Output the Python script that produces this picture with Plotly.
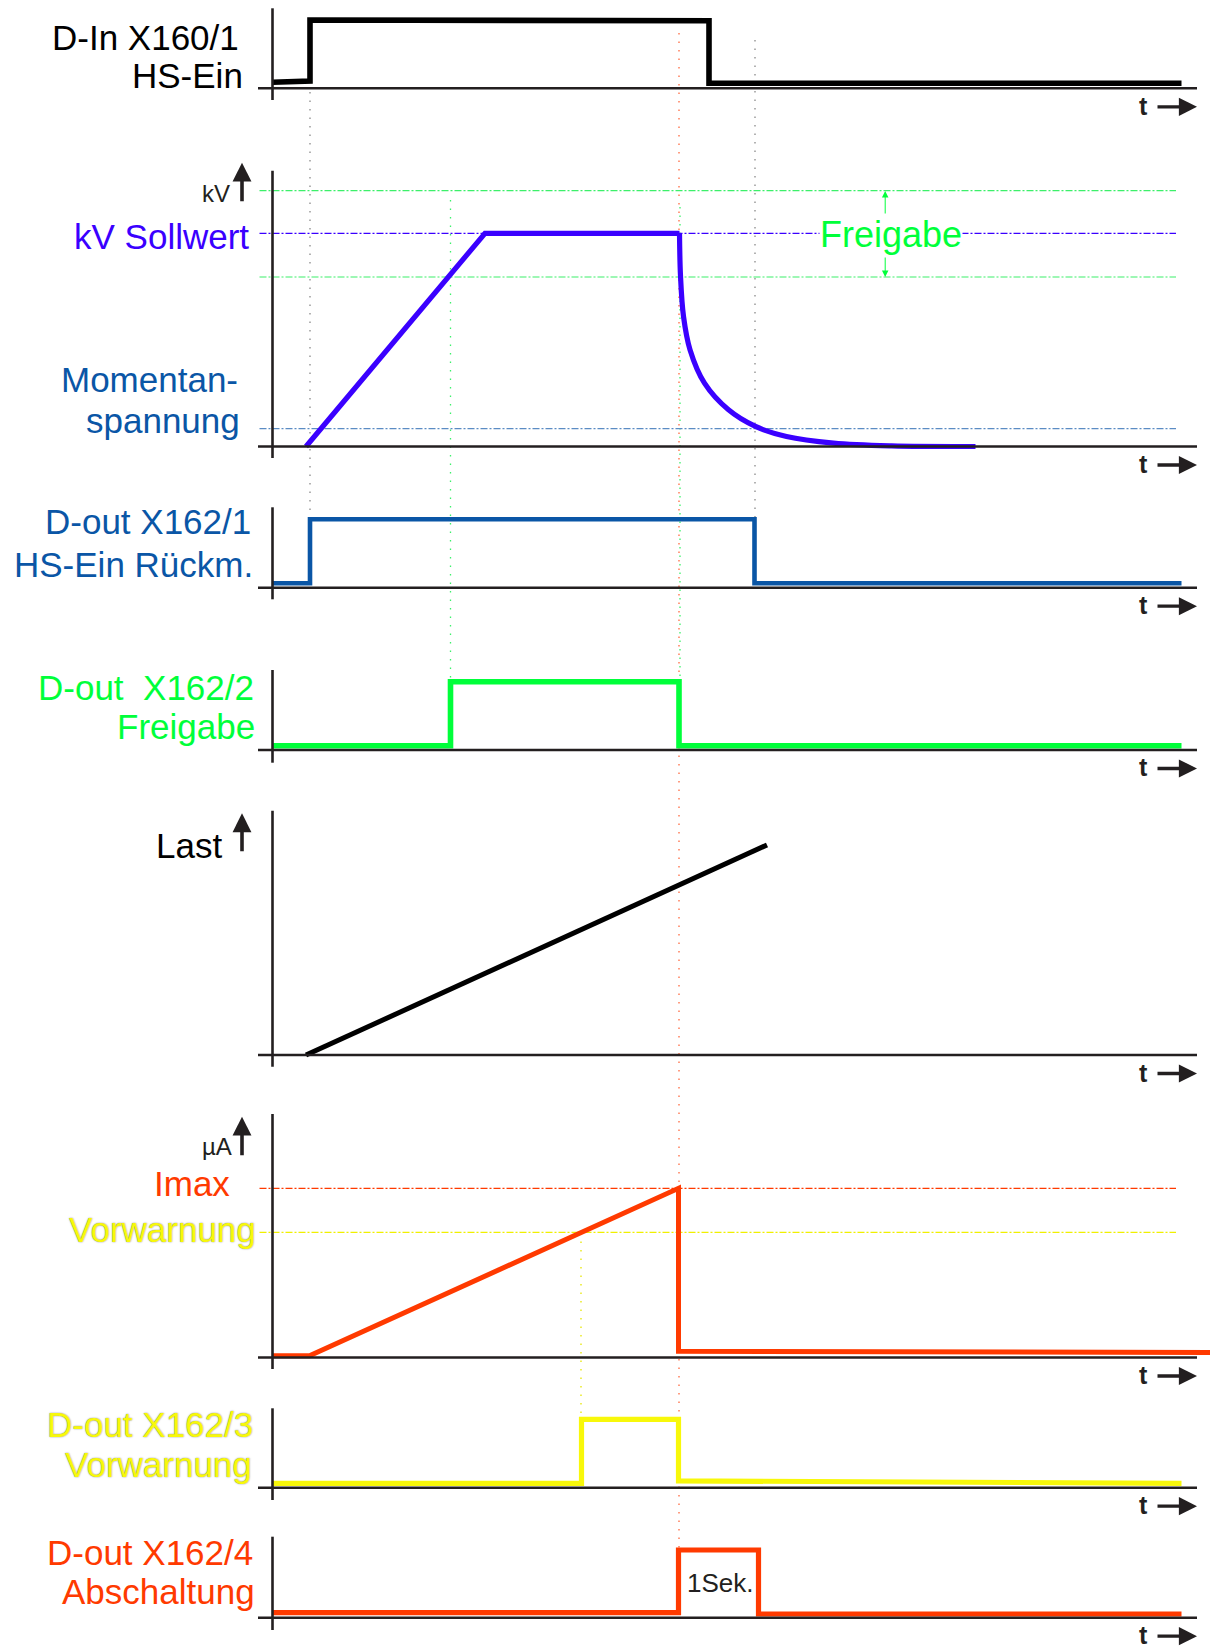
import plotly.graph_objects as go

W, H = 1210, 1646
FONT = "Liberation Sans, Arial, Helvetica, sans-serif"

# ---------------- data (time in arbitrary units, levels relative per panel) -------------
# D-In X160/1 HS-Ein
din_t = [0.0, 3.75, 3.75, 43.65, 43.65, 90.9]
din_v = [0.088, 0.107, 1.0, 0.99, 0.073, 0.073]

# kV curve (ramp, plateau, decay)
kv_t = [3.35, 21.25, 40.7]
kv_v = [0.0, 1.0, 1.0]
kv_decay_t = [40.7, 40.8, 41.1, 41.75, 43.2, 45.6, 48.3, 51.4, 56.1, 61.9, 70.3]
kv_decay_v = [1.0, 0.80, 0.61, 0.454, 0.297, 0.172, 0.094, 0.047, 0.016, 0.003, 0.0]
kv_upper_limit = 1.2
kv_setpoint = 1.0
kv_lower_limit = 0.795
kv_momentary = 0.084

# D-out X162/1 HS-Ein Rückm.
rueck_t = [0.0, 3.75, 3.75, 48.2, 48.2, 90.9]
rueck_v = [0.064, 0.064, 1.0, 1.0, 0.064, 0.064]

# D-out X162/2 Freigabe
freig_t = [0.0, 17.8, 17.8, 40.65, 40.65, 90.9]
freig_v = [0.063, 0.063, 1.0, 1.0, 0.063, 0.063]

# Last
last_t = [3.35, 49.45]
last_v = [0.0, 1.0]

# current µA
ua_t = [0.0, 3.7, 40.6, 40.6, 93.75]
ua_v = [0.01, 0.01, 1.0, 0.037, 0.03]
ua_imax = 1.0
ua_warn = 0.74

# D-out X162/3 Vorwarnung
vorw_t = [0.0, 30.9, 30.9, 40.6, 40.6, 90.9]
vorw_v = [0.064, 0.064, 1.0, 1.0, 0.10, 0.064]

# D-out X162/4 Abschaltung
absch_t = [0.0, 40.6, 40.6, 48.6, 48.6, 90.9]
absch_v = [0.074, 0.074, 1.0, 1.0, 0.055, 0.055]

# event markers (times)
ev_hs_on = 3.75
ev_freig = 17.8
ev_warn = 30.85
ev_trip = 40.65
ev_rueck_off = 48.25

# ---------------- layout helpers ----------------
AX0 = 272.5      # pixel of time origin
PXT = 10.0       # pixels per time unit


def tx(px):
    return (px - AX0) / PXT


def xp(px):
    return px / W


def yp(py):
    return 1 - py / H


AXIS = "#231f20"
BLACK = "#000000"
VIOLET = "#3a00ff"
STEEL = "#0a56a6"
STEEL_LINE = "#5b8cc4"
GREEN = "#00ff3a"
GREEN_LINE = "#3cf06a"
RED = "#ff3a00"
YELLOW = "#f8f80a"
GREY_DOT = "#8a8a8a"

panels = [
    dict(base=88.3, unit=68.3, top=8.3, bot=100),
    dict(base=446.5, unit=213.2, top=170.7, bot=458),
    dict(base=587.7, unit=68.4, top=507.3, bot=599.3),
    dict(base=750.0, unit=68.3, top=670, bot=762.7),
    dict(base=1055.0, unit=210.0, top=810.7, bot=1066.7),
    dict(base=1357.5, unit=169.2, top=1114, bot=1369),
    dict(base=1487.7, unit=68.4, top=1408.3, bot=1500),
    dict(base=1617.7, unit=67.7, top=1536.7, bot=1630),
]

fig = go.Figure()
lay = {}
yrefs = []
for i, p in enumerate(panels):
    key = "yaxis" if i == 0 else f"yaxis{i+1}"
    ref = "y" if i == 0 else f"y{i+1}"
    yrefs.append(ref)
    ax = dict(domain=[0, 1], range=[(p["base"] - H) / p["unit"], p["base"] / p["unit"]],
              visible=False, fixedrange=True)
    if i > 0:
        ax["overlaying"] = "y"
    lay[key] = ax

shapes = []
annotations = []

# vertical dotted event lines
def vdot(t, y0, y1, color):
    shapes.append(dict(type="line", xref="x", yref="paper", x0=t, x1=t, y0=yp(y0), y1=yp(y1),
                       line=dict(color=color, width=1.3, dash="1.5px,7px"), layer="below"))

vdot(ev_hs_on, 92, 516, GREY_DOT)
vdot(ev_rueck_off, 40, 518, GREY_DOT)
vdot(ev_freig, 200, 682, GREEN_LINE)
vdot(ev_trip + 0.1, 207, 682, GREEN_LINE)
vdot(ev_warn, 1233, 1420, "#e6e600")
vdot(ev_trip, 33, 1548, "#ff6a40")

# axes of each panel
for i, p in enumerate(panels):
    shapes.append(dict(type="line", xref="x", yref="paper", x0=0, x1=0, y0=yp(p["top"]), y1=yp(p["bot"]),
                       line=dict(color=AXIS, width=2.6)))
    shapes.append(dict(type="line", xref="x", yref=yrefs[i], x0=tx(258), x1=tx(1197), y0=0, y1=0,
                       line=dict(color=AXIS, width=2.6)))
    # t -> arrow
    ty = p["base"] + 18.5
    annotations.append(dict(xref="paper", yref="paper", x=xp(1143.5), y=yp(ty - 1), text="<b>t</b>",
                            showarrow=False, font=dict(family=FONT, size=25, color=AXIS),
                            xanchor="center", yanchor="middle"))
    annotations.append(dict(xref="paper", yref="paper", x=xp(1197), y=yp(ty), text="",
                            showarrow=True, ax=-41, ay=0, arrowhead=2, arrowsize=1.1, arrowwidth=3.3,
                            arrowcolor=AXIS, standoff=0))

# horizontal reference lines
DD = "7px,2px,2px,2px"
def href(level, yref, color, x0=259.5, x1=1176):
    shapes.append(dict(type="line", xref="x", yref=yref, x0=tx(x0), x1=tx(x1), y0=level, y1=level,
                       line=dict(color=color, width=1.2, dash=DD), layer="below"))

href(kv_upper_limit, "y2", GREEN_LINE)
href(kv_lower_limit, "y2", GREEN_LINE)
href(kv_setpoint, "y2", VIOLET)
href(kv_momentary, "y2", STEEL_LINE)
href(ua_imax, "y6", RED)
href(ua_warn, "y6", "#f0f000")

# traces
def line(x, y, yref, color, width=5.2, shape="linear"):
    fig.add_trace(go.Scatter(x=x, y=y, yaxis=yref, mode="lines", hoverinfo="skip",
                             line=dict(color=color, width=width, shape=shape), showlegend=False))

line(din_t, din_v, "y", BLACK, 5.6)
line(kv_t, kv_v, "y2", VIOLET, 5.2)
line(kv_decay_t, kv_decay_v, "y2", VIOLET, 5.2, "spline")
line(rueck_t, rueck_v, "y3", STEEL, 4.6)
line(freig_t, freig_v, "y4", GREEN, 5.6)
line(last_t, last_v, "y5", BLACK, 5.0)
line(ua_t, ua_v, "y6", RED, 5.0)
line(vorw_t, vorw_v, "y7", YELLOW, 5.2)
line(absch_t, absch_v, "y8", RED, 5.2)

# labels
BIG = 35
def label(text, xr, yc, color, size=BIG, shadow=None, anchor="right"):
    f = dict(family=FONT, size=size, color=color)
    if shadow:
        f["shadow"] = shadow
    annotations.append(dict(xref="paper", yref="paper", x=xp(xr), y=yp(yc), text=text, showarrow=False,
                            xanchor=anchor, yanchor="middle", font=f))

YSH = "0px 0px 1.5px #6f6f6f"
label("D-In X160/1", 241, 38, BLACK)
label("HS-Ein", 245, 76, BLACK)
label("kV", 232, 193, AXIS, 24)
label("kV Sollwert", 251, 237, VIOLET)
label("Momentan-", 240, 380, STEEL)
label("spannung", 242, 420, STEEL)
label("D-out X162/1", 253, 522, STEEL)
label("HS-Ein Rückm.", 255, 564, STEEL)
label("D-out  X162/2", 256, 687, GREEN)
label("Freigabe", 257, 727, GREEN)
label("Last", 224, 846, BLACK)
label("µA", 234, 1146, AXIS, 24)
label("Imax", 232, 1183, RED)
label("Vorwarnung", 258, 1229, YELLOW, shadow=YSH)
label("D-out X162/3", 255, 1424, YELLOW, shadow=YSH)
label("Vorwarnung", 254, 1464, YELLOW, shadow=YSH)
label("D-out X162/4", 255, 1552, RED)
label("Abschaltung", 257, 1591, RED)
label("1Sek.", 720, 1583, AXIS, 26, anchor="center")

# Freigabe text in kV panel with limit arrows
annotations.append(dict(xref="paper", yref="paper", x=xp(890.5), y=yp(235), text="Freigabe",
                        showarrow=False, xanchor="center", yanchor="middle", bgcolor="white",
                        borderpad=0, font=dict(family=FONT, size=36, color=GREEN)))
annotations.append(dict(xref="paper", yref="paper", x=xp(885.2), y=yp(191), text="", showarrow=True,
                        ax=0, ay=24, arrowhead=2, arrowsize=1.3, arrowwidth=1, arrowcolor=GREEN, standoff=0))
annotations.append(dict(xref="paper", yref="paper", x=xp(885.2), y=yp(277), text="", showarrow=True,
                        ax=0, ay=-21, arrowhead=2, arrowsize=1.3, arrowwidth=1, arrowcolor=GREEN, standoff=0))

# up arrows on value axes
for tip, tail in [(162.7, 202.7), (813.3, 852.7), (1116.7, 1156.7)]:
    annotations.append(dict(xref="paper", yref="paper", x=xp(242), y=yp(tip), text="", showarrow=True,
                            ax=0, ay=tail - tip, arrowhead=2, arrowsize=1.05, arrowwidth=3.6,
                            arrowcolor=AXIS, standoff=0))

fig.update_layout(
    width=W, height=H, margin=dict(l=0, r=0, t=0, b=0),
    paper_bgcolor="white", plot_bgcolor="white",
    xaxis=dict(domain=[0, 1], range=[tx(0), tx(W)], visible=False, fixedrange=True),
    shapes=shapes, annotations=annotations, showlegend=False,
    **lay,
)

fig.write_html("out.html", config={"displayModeBar": False, "staticPlot": True},
               post_script="document.body.style.margin='0px';document.body.style.overflow='hidden';")
